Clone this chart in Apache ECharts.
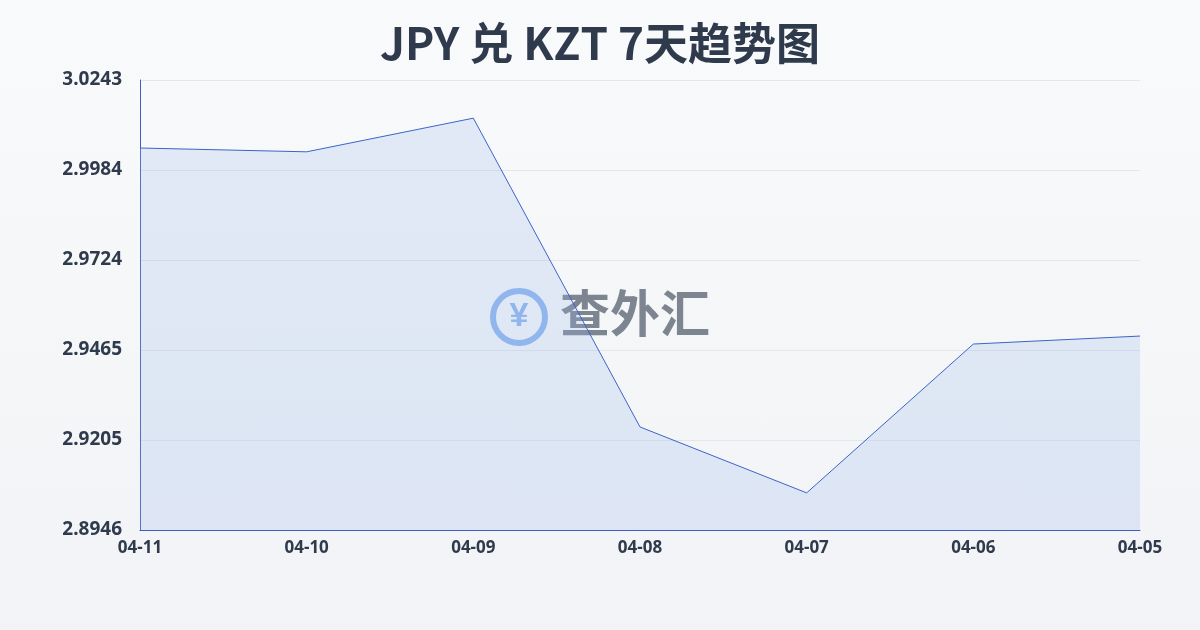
<!DOCTYPE html>
<html>
<head>
<meta charset="utf-8">
<script src="https://cdn.jsdelivr.net/npm/echarts@6/dist/echarts.min.js"></script>
<style>
html,body{margin:0;padding:0;}
#chart{width:1200px;height:630px;background:linear-gradient(180deg,#f9fafb,#f1f3f6);}
</style>
</head>
<body>
<div id="chart"></div>
<script>
// 日期与汇率
var dates = ['04-11','04-10','04-09','04-08','04-07','04-06','04-05'];
var rates = [3.0047,3.0036,3.0133,2.9243,2.9053,2.9482,2.9505];
var yMin = 2.8946, yMax = 3.0243;

var chart = echarts.init(document.getElementById('chart'));
chart.setOption({
  textStyle: {fontFamily: 'Noto Sans'},
  title: {
    text: 'JPY 兑 KZT 7天趋势图',
    left: 'center', top: 16,
    textStyle: {fontSize: 44, fontWeight: 'bold', color: '#2f3a4c', fontFamily: 'Noto Sans CJK SC'}
  },
  grid: {left: 140, right: 60, top: 80, bottom: 100},
  graphic: [{
    type: 'group', left: 490, top: 288,
    children: [
      {type: 'circle', shape: {cx: 29, cy: 29, r: 26}, style: {fill: 'none', stroke: '#8fb5ee', lineWidth: 6}},
      {type: 'text', style: {text: '¥', x: 29, y: 29, align: 'center', verticalAlign: 'middle', fontSize: 34, fontWeight: 'bold', fill: '#8fb5ee'}},
      {type: 'text', style: {text: '查外汇', x: 70, y: 0, fontSize: 50, fontWeight: 'bold', fill: '#7d8591', fontFamily: 'Noto Sans CJK SC'}}
    ]
  }],
  xAxis: {
    type: 'category', boundaryGap: false, data: dates,
    axisTick: {show: false},
    axisLine: {lineStyle: {color: '#3b5fc0'}},
    axisLabel: {color: '#2f3a4c', fontSize: 17, fontWeight: 'bold', margin: 10}
  },
  yAxis: {
    type: 'value', min: yMin, max: yMax, interval: (yMax - yMin) / 5,
    axisLine: {show: true, lineStyle: {color: '#3b5fc0'}},
    axisTick: {show: false},
    splitLine: {lineStyle: {color: '#e3e6ea'}},
    axisLabel: {color: '#2f3a4c', fontSize: 19, fontWeight: 'bold', margin: 18,
      formatter: function (v) { return v.toFixed(4); }}
  },
  series: [{
    type: 'line', data: rates, symbol: 'none',
    lineStyle: {color: '#3b63c9', width: 1},
    areaStyle: {color: 'rgba(150,180,235,0.33)'}
  }]
});
</script>
</body>
</html>
